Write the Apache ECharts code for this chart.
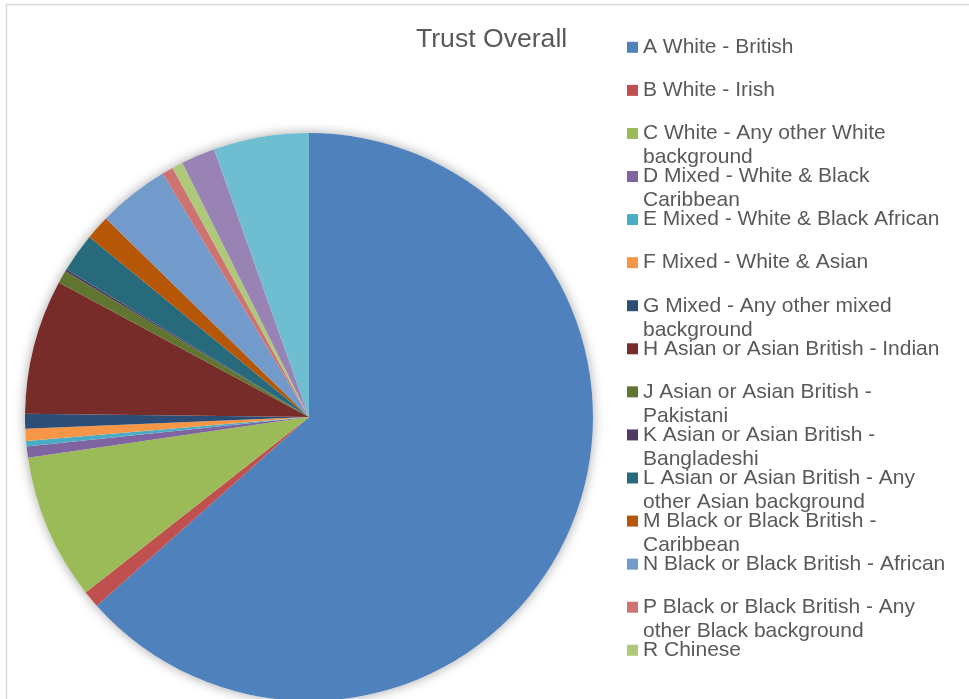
<!DOCTYPE html>
<html>
<head>
<meta charset="utf-8">
<title>Trust Overall</title>
<script src="https://cdn.jsdelivr.net/npm/echarts@6/dist/echarts.min.js"></script>
<style>
  html, body { margin: 0; padding: 0; background: #ffffff; }
  #chart { width: 969px; height: 699px; }
</style>
</head>
<body>
<div id="chart"></div>
<script>
// Ethnic groups, in slice order (clockwise from 12 o'clock)
const categories = [
  'A White - British',
  'B White - Irish',
  'C White - Any other White background',
  'D Mixed - White & Black Caribbean',
  'E Mixed - White & Black African',
  'F Mixed - White & Asian',
  'G Mixed - Any other mixed background',
  'H Asian or Asian British - Indian',
  'J Asian or Asian British - Pakistani',
  'K Asian or Asian British - Bangladeshi',
  'L Asian or Asian British - Any other Asian background',
  'M Black or Black British - Caribbean',
  'N Black or Black British - African',
  'P Black or Black British - Any other Black background',
  'R Chinese',
  'S Any other ethnic group',
  'Z Not stated'
];

// Share of staff in each group (%)
const shares = [
  63.40, 0.97, 8.30, 0.64, 0.31, 0.69, 0.83, 7.67,
  0.72, 0.14, 2.22, 1.39, 4.06, 0.64, 0.61, 1.94, 5.42
];

// Entries listed in the key
const legendNames = categories.slice(0, 15);

const palette = [
  '#4F81BD', '#C0504D', '#9BBB59', '#8064A2', '#4BACC6', '#F79646',
  '#2C4D75', '#772C2A', '#5F7530', '#4D3B62', '#276A7C', '#B65708',
  '#729ACA', '#CD7371', '#AFC97A', '#9983B5', '#6FBDD1'
];

const FONT = '"Liberation Sans", Arial, sans-serif';
const LEGEND_SIZE = 21;
const LEGEND_WRAP = 318;

// Word-wrap a key entry to the key's column width
const measureCtx = document.createElement('canvas').getContext('2d');
measureCtx.font = LEGEND_SIZE + 'px ' + FONT;
function wrapLines(text) {
  const words = text.split(' ');
  const lines = [];
  let line = '';
  words.forEach(function (w) {
    const test = line ? line + ' ' + w : w;
    if (line && measureCtx.measureText(test).width > LEGEND_WRAP) {
      lines.push(line);
      line = w;
    } else {
      line = test;
    }
  });
  lines.push(line);
  return lines;
}

const total = shares.reduce(function (a, b) { return a + b; }, 0);
const center = [309, 417];
const radius = 284;

const chart = echarts.init(document.getElementById('chart'), null, { renderer: 'canvas' });

chart.setOption({
  animation: false,
  backgroundColor: '#ffffff',
  color: palette,
  title: {
    text: 'Trust Overall',
    left: 416,
    top: 26,
    padding: 0,
    textStyle: {
      fontFamily: FONT,
      fontSize: 26.6,
      fontWeight: 'normal',
      color: '#595959'
    }
  },
  legend: {
    orient: 'vertical',
    left: 627,
    top: 11.3,
    padding: 0,
    itemWidth: 11,
    itemHeight: 11,
    itemGap: -28.93,
    icon: 'rect',
    selectedMode: false,
    data: legendNames,
    // a blank line above keeps the swatch level with the first text line
    formatter: function (name) {
      const l = wrapLines(name);
      return '\n' + l[0] + '\n' + (l[1] || '');
    },
    textStyle: {
      fontFamily: FONT,
      fontSize: LEGEND_SIZE,
      lineHeight: 24,
      color: '#595959'
    }
  },
  graphic: [{
    type: 'rect',
    silent: true,
    z: -10,
    shape: { x: 6.5, y: 4.5, width: 1000, height: 1000 },
    style: { fill: null, stroke: '#d9d9d9', lineWidth: 1.5 }
  }],
  series: [
    {
      // soft drop shadow under the pie
      name: 'backdrop',
      type: 'pie',
      silent: true,
      z: 1,
      center: center,
      radius: radius,
      label: { show: false },
      labelLine: { show: false },
      itemStyle: {
        color: '#ffffff',
        shadowBlur: 12,
        shadowColor: 'rgba(0,0,0,0.35)'
      },
      data: [{ name: 'total', value: total }]
    },
    {
      name: 'Trust Overall',
      type: 'pie',
      z: 2,
      center: center,
      radius: radius,
      startAngle: 90,
      clockwise: true,
      avoidLabelOverlap: false,
      label: { show: false },
      labelLine: { show: false },
      emphasis: { disabled: true },
      itemStyle: { borderWidth: 0 },
      data: categories.map(function (c, i) {
        return { name: c, value: shares[i] };
      })
    }
  ]
});
</script>
</body>
</html>
